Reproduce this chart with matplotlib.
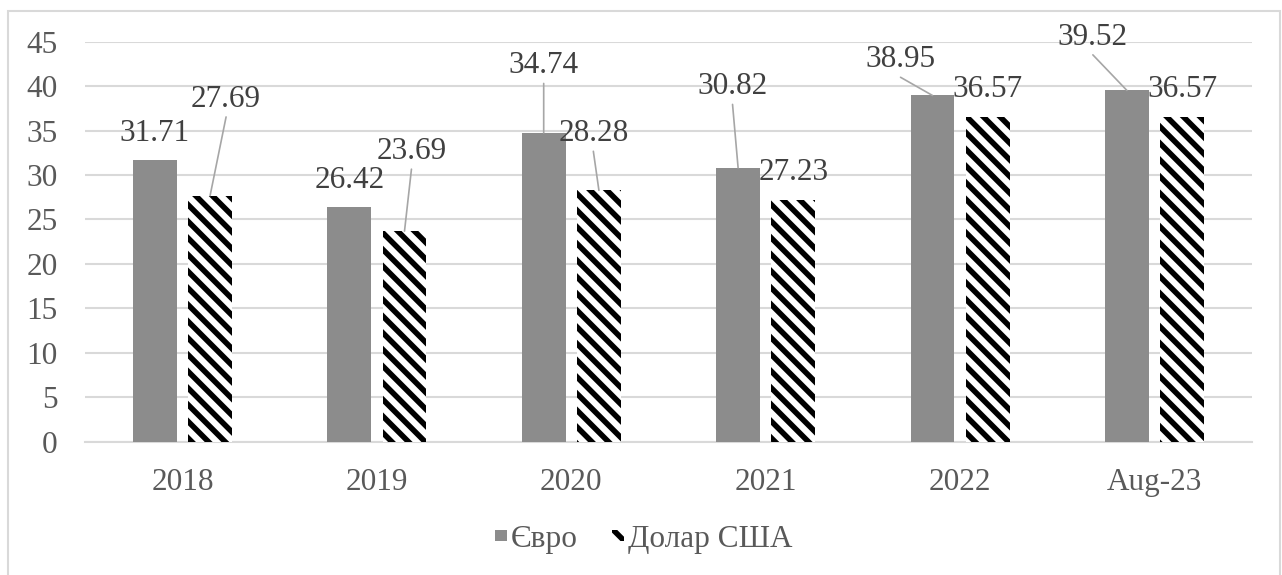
import numpy as np
import matplotlib
matplotlib.use('Agg')
import matplotlib.pyplot as plt
from matplotlib.patches import Rectangle

plt.rcParams['font.family'] = ['Liberation Serif', 'DejaVu Serif']
plt.rcParams['hatch.linewidth'] = 4.0

# exchange rates, UAH per unit
years = ['2018', '2019', '2020', '2021', '2022', 'Aug-23']
euro = [31.71, 26.42, 34.74, 30.82, 38.95, 39.52]
usd = [27.69, 23.69, 28.28, 27.23, 36.57, 36.57]

# label offsets (points) from the top of each bar
euro_off = [(0, 21), (0, 21), (0, 50), (-4, 60), (-23, 27.5), (-24.5, 40)]
usd_off = [(11.5, 71), (5, 59), (-4, 42.5), (0, 21), (0, 21), (0, 21)]

grey = '#8c8c8c'
txt = '#595959'
grid = '#d9d9d9'

fig = plt.figure(figsize=(12.82, 5.75), dpi=100)
ax = fig.add_axes([85.3 / 1282, 1 - 441.7 / 575, (1251.7 - 85.3) / 1282, 400 / 575])

x = np.arange(len(years))
w = 0.225
off = 0.142
b1 = ax.bar(x - off, euro, w, color=grey, label='Євро', zorder=3)
b2 = ax.bar(x + off, usd, w, facecolor='white', edgecolor='black', linewidth=0,
            hatch='\\\\', label='Долар США', zorder=3)

def put_labels(xs, vals, offs):
    for xi, v, (dx, dy) in zip(xs, vals, offs):
        ax.annotate('%.2f' % v, xy=(xi, v), xytext=(dx, dy - 7.2),
                    textcoords='offset points', ha='center', va='baseline',
                    fontsize=22.5, color='#404040', zorder=5)
        if dy > 25:
            # leader line from under the label down to the bar
            ax.annotate('', xy=(xi, v), xytext=(dx, dy - 14.4),
                        textcoords='offset points',
                        arrowprops=dict(arrowstyle='-', color='#a6a6a6', lw=1.2,
                                        shrinkA=0, shrinkB=0), zorder=4)

put_labels(x - off, euro, euro_off)
put_labels(x + off, usd, usd_off)

ax.set_xlim(-0.5, len(years) - 0.5)
ax.set_ylim(0, 45)
ax.set_yticks(np.arange(0, 46, 5))
ax.set_xticks(x)
ax.set_xticklabels(years)
ax.yaxis.grid(True, color=grid, lw=1.5, zorder=0)
ax.set_axisbelow(True)
for s in ['top', 'right', 'left']:
    ax.spines[s].set_visible(False)
ax.spines['bottom'].set_color(grid)
ax.spines['bottom'].set_linewidth(1.5)
ax.tick_params(axis='both', length=0, labelsize=22.5, labelcolor=txt)
ax.tick_params(axis='y', pad=20)
ax.tick_params(axis='x', pad=19)

fig.legend(handles=[b1, b2], loc='center', bbox_to_anchor=(644 / 1282, 1 - 539 / 575),
           ncol=2, frameon=False, fontsize=22.5, labelcolor=txt,
           handlelength=0.38, handleheight=0.16, handletextpad=0.12, columnspacing=1.1)

# chart border
fig.patches.append(Rectangle((8 / 1282, -0.05), (1280 - 8) / 1282, 1.05 - 11 / 575,
                             transform=fig.transFigure, fill=False,
                             edgecolor=grid, lw=1.5))

fig.savefig('out.png', dpi=100)
